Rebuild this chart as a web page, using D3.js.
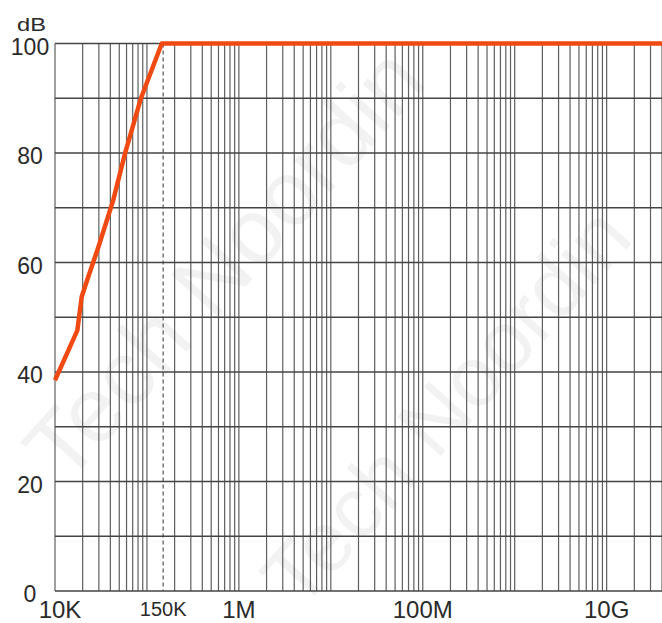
<!DOCTYPE html>
<html>
<head>
<meta charset="utf-8">
<script src="https://cdn.jsdelivr.net/npm/d3@7"></script>
<style>
  html, body { margin: 0; padding: 0; background: #fff; }
  svg { display: block; }
  text { font-family: "Liberation Sans", Arial, sans-serif; }
</style>
</head>
<body>
<svg id="chart" width="662" height="623"></svg>
<script>
// ---- data ----
const freqHz = [1.0e4, 1.75e4, 1.95e4, 2.24e4, 2.96e4, 4.3e4, 5.77e4, 8.6e4, 1.45e5, 4e10];
const attenDb = [38.5, 47.6, 53.7, 56.8, 62.8, 71.4, 79.9, 90, 100, 100];
const yTickValues = [0, 20, 40, 60, 80, 100];
const yGridValues = [0, 10, 20, 30, 40, 50, 60, 70, 80, 90, 100];
const xLabelValues = [1e4, 1.5e5, 1e6, 1e8, 1e10];
const xLabelTexts = ["10K", "150K", "1M", "100M", "10G"];
const markerFreq = [1.5e5];
const watermarkText = "Tech Noordin";

// ---- layout ----
const svg = d3.select("#chart");
const x = d3.scaleLog().domain([1e4, 4e10]).range([55, 662]);
const y = d3.scaleLinear().domain([0, 100]).range([591, 43.5]);

// watermark (very faint)
const wm = svg.append("g");
[[66, 486, 92], [300, 612, 85]].forEach(p => {
  wm.append("text")
    .attr("transform", `translate(${p[0]},${p[1]}) rotate(-48)`)
    .attr("font-size", p[2])
    .attr("fill", "#f2f2f2")
    .text(watermarkText);
});

// vertical grid
const xt = x.ticks();
svg.append("g").selectAll("line").data(xt).join("line")
  .attr("x1", d => x(d)).attr("x2", d => x(d))
  .attr("y1", y(100)).attr("y2", y(0))
  .attr("stroke", "#5e5e5e").attr("stroke-width", 1.2);

// horizontal grid
svg.append("g").selectAll("line").data(yGridValues).join("line")
  .attr("x1", x(1e4)).attr("x2", 662)
  .attr("y1", d => y(d)).attr("y2", d => y(d))
  .attr("stroke", "#444").attr("stroke-width", 1.3);

// dashed marker
svg.append("g").selectAll("line").data(markerFreq).join("line")
  .attr("x1", d => x(d)).attr("x2", d => x(d))
  .attr("y1", y(100)).attr("y2", y(0))
  .attr("stroke", "#444").attr("stroke-width", 1.1)
  .attr("stroke-dasharray", "4,3");

// y labels
svg.append("g").selectAll("text").data(yTickValues).join("text")
  .attr("x", 30).attr("y", d => y(d) + 11)
  .attr("text-anchor", "middle")
  .attr("font-size", 23).attr("fill", "#2a2a2a")
  .text(d => d);

svg.append("text").attr("x", 17).attr("y", 30.5)
  .attr("font-size", 19).attr("fill", "#2a2a2a")
  .attr("textLength", 29).attr("lengthAdjust", "spacingAndGlyphs")
  .text("dB");

// x labels
svg.append("g").selectAll("text").data(xLabelValues).join("text")
  .attr("x", (d, i) => x(d) + (i === 0 ? 5 : 0))
  .attr("y", (d, i) => i === 1 ? 616 : 618)
  .attr("text-anchor", "middle")
  .attr("font-size", (d, i) => i === 1 ? 20 : 24)
  .attr("fill", "#2a2a2a")
  .text((d, i) => xLabelTexts[i]);

// curve
const line = d3.line().x(d => x(d[0])).y(d => y(d[1]));
svg.append("path")
  .datum(freqHz.map((f, i) => [f, attenDb[i]]))
  .attr("d", line)
  .attr("fill", "none")
  .attr("stroke", "#f04a12")
  .attr("stroke-width", 4.5)
  .attr("stroke-linejoin", "round");
</script>
</body>
</html>
